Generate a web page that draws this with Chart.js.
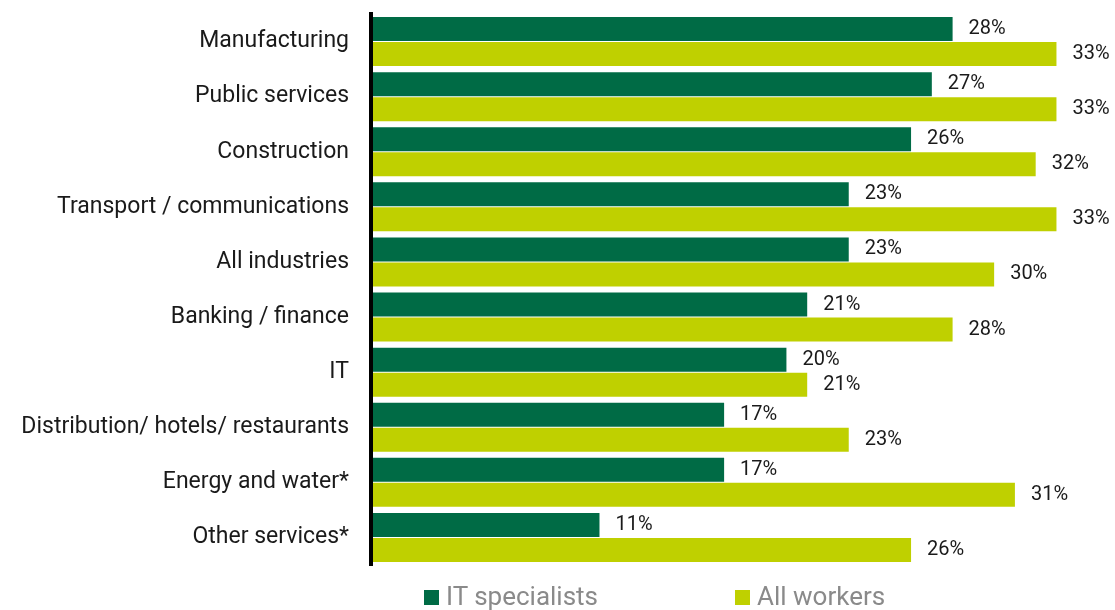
<!DOCTYPE html>
<html>
<head>
<meta charset="utf-8">
<script src="https://cdn.jsdelivr.net/npm/chart.js@4.4.1/dist/chart.umd.min.js"></script>
<style>
  html, body { margin: 0; padding: 0; background: #fff; }
  #wrap { position: relative; width: 1115px; height: 610px; overflow: hidden; }
  #c { position: absolute; left: 0; top: 0; }
  .legend-item { position: absolute; top: 581px; font-family: Roboto, sans-serif; font-size: 26px;
                 line-height: 30px; color: #8a8a8a; display: flex; align-items: baseline; white-space: nowrap; }
  .legend-item i { display: inline-block; width: 15px; height: 15px; margin-right: 7px; }
</style>
</head>
<body>
<div id="wrap">
  <canvas id="c" width="1115" height="610"></canvas>
</div>
<script>
// Share of workers by industry
const categories = [
  'Manufacturing', 'Public services', 'Construction', 'Transport / communications',
  'All industries', 'Banking / finance', 'IT', 'Distribution/ hotels/ restaurants',
  'Energy and water*', 'Other services*'
];
const itSpecialists = [28, 27, 26, 23, 23, 21, 20, 17, 17, 11];
const allWorkers    = [33, 33, 32, 33, 30, 28, 21, 23, 31, 26];
const seriesNames   = ['IT specialists', 'All workers'];
const seriesColors  = ['#006b45', '#bfd000'];

// Percent labels just past the end of each bar
const valueLabels = {
  id: 'valueLabels',
  afterDatasetsDraw(chart) {
    const ctx = chart.ctx;
    ctx.save();
    ctx.font = '20px Roboto, sans-serif';
    ctx.fillStyle = '#1a1a1a';
    ctx.textAlign = 'left';
    ctx.textBaseline = 'middle';
    chart.data.datasets.forEach((ds, i) => {
      chart.getDatasetMeta(i).data.forEach((bar, j) => {
        ctx.fillText(ds.data[j] + '%', bar.x + 16, bar.y);
      });
    });
    ctx.restore();
  }
};

new Chart(document.getElementById('c'), {
  type: 'bar',
  data: {
    labels: categories,
    datasets: [
      { label: seriesNames[0], data: itSpecialists, backgroundColor: seriesColors[0] },
      { label: seriesNames[1], data: allWorkers, backgroundColor: seriesColors[1] }
    ]
  },
  options: {
    indexAxis: 'y',
    responsive: false,
    animation: false,
    categoryPercentage: 0.907,
    barPercentage: 0.96,
    layout: { padding: { top: 14, bottom: 45, left: 0, right: 17 } },
    plugins: { legend: { display: false }, tooltip: { enabled: false } },
    scales: {
      x: { display: false, min: 0, max: 35 },
      y: {
        afterFit(scale) {
          // fixed label column; the plot keeps its own top/bottom padding
          scale.width = 371;
          scale.paddingTop = 0;
          scale.paddingBottom = 0;
        },
        grid: { display: false, drawTicks: false },
        // axis line sits on top of the bars
        border: { display: true, color: '#000', width: 4, z: 1 },
        ticks: { font: { family: 'Roboto', size: 23 }, color: '#1a1a1a', padding: 22 }
      }
    }
  },
  plugins: [valueLabels]
});

// Legend below the plot
const legendLeft = [424, 735];
const wrap = document.getElementById('wrap');
seriesNames.forEach((name, i) => {
  const item = document.createElement('div');
  item.className = 'legend-item';
  item.style.left = legendLeft[i] + 'px';
  const sw = document.createElement('i');
  sw.style.background = seriesColors[i];
  item.appendChild(sw);
  item.appendChild(document.createTextNode(name));
  wrap.appendChild(item);
});
</script>
</body>
</html>
